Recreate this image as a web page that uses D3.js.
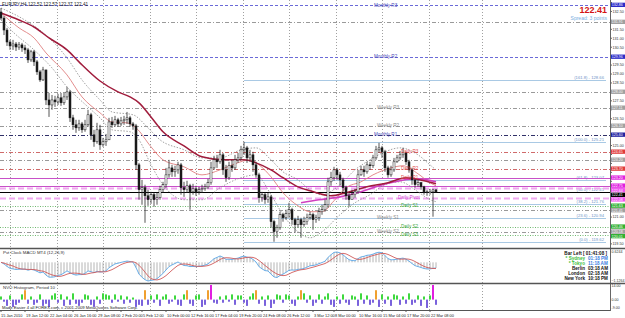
<!DOCTYPE html>
<html><head><meta charset="utf-8">
<script src="https://cdn.jsdelivr.net/npm/d3@7"></script>
<style>body{margin:0;background:#fff}svg{display:block;font-family:"Liberation Sans",Arial,sans-serif}</style>
</head><body><svg id="c" width="625" height="318"></svg>
<script>
// ---------- DATA ----------
const symbolTitle = "EURJPY,H4  122.52 122.57 122.37 122.41";
const firstOpen = 132.47;
const closes = [132.13,131.46,130.79,130.57,130.68,130.51,130.63,130.46,130.35,129.79,
130.24,129.68,129.12,128.67,129.23,127.55,127.27,127.55,127.44,127.67,
127.39,127.72,128.00,126.55,126.16,125.99,126.21,125.88,126.16,126.72,
125.60,125.21,125.88,125.04,125.21,125.32,126.32,126.16,126.44,126.21,
126.38,126.44,126.55,126.21,126.10,123.92,122.53,122.64,122.19,121.97,
122.25,121.97,122.08,122.53,122.81,123.36,123.75,123.53,123.64,123.92,
122.64,122.53,122.75,122.41,122.58,122.41,122.53,122.58,122.69,122.92,
123.75,124.20,124.09,124.48,123.64,123.20,123.87,123.75,124.20,124.31,
124.76,124.87,124.31,124.48,123.92,123.36,122.08,122.25,121.97,122.13,
120.74,120.18,120.40,121.13,120.96,121.19,121.41,120.85,120.57,120.85,
120.57,120.74,120.96,121.13,120.85,120.96,121.30,121.41,121.69,122.97,
123.20,123.64,123.36,123.08,122.64,122.19,121.97,122.25,122.41,123.36,
123.64,123.53,123.92,123.87,124.31,124.76,124.87,124.65,123.75,123.36,
123.64,124.09,124.31,124.48,124.59,124.09,123.64,123.08,122.81,122.92,
122.69,122.41,122.36,122.41,122.52,122.41];
const highs = [132.69,132.25,131.58,130.91,130.91,130.79,130.79,130.74,130.63,130.46,
130.35,130.35,129.79,129.23,129.40,129.23,127.94,127.83,127.78,127.89,
127.94,127.94,128.28,128.11,126.72,126.44,126.44,126.32,126.44,127.00,
126.83,125.88,126.27,126.16,125.43,125.65,126.55,126.60,126.66,126.55,
126.60,126.66,126.88,126.66,126.32,126.21,124.03,123.08,122.81,122.53,
122.41,122.36,122.36,122.75,122.97,123.75,124.20,123.92,123.87,124.09,
124.03,122.97,123.03,122.86,122.86,122.75,122.69,122.81,122.86,123.14,
124.09,124.43,124.48,124.76,124.59,123.92,124.09,124.20,124.48,124.59,
124.98,125.21,124.98,124.76,124.65,124.09,123.48,122.41,122.36,122.36,
122.25,120.85,120.57,121.30,121.24,121.41,121.80,121.52,120.96,121.07,
120.96,121.02,121.19,121.30,121.24,121.13,121.52,121.69,121.97,123.20,
123.53,123.81,123.75,123.53,123.20,122.75,122.36,122.53,122.58,123.64,
123.87,123.87,124.09,124.09,124.48,124.98,125.15,124.98,124.76,123.87,
123.87,124.31,124.48,124.70,124.87,124.65,124.20,123.75,123.08,123.08,
122.97,122.75,122.53,122.58,122.58,122.57];
const lows = [132.02,131.18,130.57,130.35,130.35,130.29,130.35,130.24,130.12,129.62,
129.68,129.45,128.95,128.56,128.61,127.27,126.60,127.00,127.16,127.27,
127.22,127.27,127.55,126.32,125.88,125.71,125.82,125.71,125.77,126.05,
125.32,124.93,125.10,124.76,124.93,124.98,125.32,125.99,126.05,126.05,
126.10,126.16,126.21,126.05,125.88,123.64,121.97,121.69,120.68,121.63,
121.74,121.58,121.69,121.97,122.36,122.64,123.20,123.25,123.25,123.42,
122.25,122.13,122.36,121.41,122.25,122.19,122.25,122.36,122.47,122.58,
122.81,123.64,123.75,123.98,123.36,122.97,123.08,123.53,123.64,124.03,
124.20,124.48,124.03,124.09,123.53,123.20,121.80,121.86,121.74,121.80,
120.40,119.62,119.84,120.29,120.74,120.85,120.96,120.57,120.12,120.40,
119.84,120.46,120.57,120.85,120.29,120.68,120.79,121.13,121.30,121.52,
122.75,123.03,123.08,122.75,122.41,121.97,121.58,121.97,122.08,122.30,
123.31,123.25,123.42,123.64,123.75,124.20,124.59,124.31,123.53,123.20,
123.25,123.53,124.03,124.20,124.31,123.92,123.48,122.81,122.64,122.69,
122.53,122.25,122.19,122.25,121.02,122.37];

// moving averages: [bar index list], [price list]
const maLongIdx = [0,6,11,16,22,26,33,39,43,46,50,54,61,67,74,81,85,90,94,99,103,110,115,122,129,135,141,145];
const maLongVal = [132.41,132.02,131.63,131.02,130.35,129.68,128.61,128.00,127.72,127.39,126.60,125.77,124.98,124.37,124.20,124.20,124.03,123.64,123.20,122.69,122.47,122.19,122.36,122.69,122.92,123.20,123.03,122.86];
const maMidIdx = [0,6,11,15,22,27,33,37,42,45,50,54,61,67,73,78,83,86,90,94,99,103,107,111,115,120,124,130,134,139,143,145];
const maMidVal = [132.41,131.58,131.02,130.18,128.95,127.72,126.83,126.32,126.27,125.99,124.93,124.20,123.81,123.36,123.64,123.98,124.20,123.92,123.25,122.36,121.63,121.30,121.30,121.91,122.64,122.97,123.36,123.75,123.87,123.42,122.92,122.75];
const bandUpIdx = [0,9,16,22,27,33,37,44,49,53,61,67,73,80,85,90,94,99,103,107,113,118,123,128,133,139,143,145];
const bandUpVal = [132.69,131.91,131.02,129.90,128.67,127.55,126.88,126.72,125.99,125.32,124.76,124.31,124.31,124.76,124.87,124.20,123.53,123.08,122.53,122.25,122.81,123.64,124.20,124.65,124.87,124.48,123.92,123.64];
const bandLoIdx = [0,4,11,17,22,29,33,37,43,46,50,54,61,67,73,80,85,90,94,99,103,107,113,118,123,128,133,139,143,145];
const bandLoVal = [132.02,131.35,130.35,129.34,128.28,127.16,126.55,125.88,125.77,125.32,123.92,122.81,121.97,121.97,122.64,123.20,123.36,122.25,121.13,120.18,119.84,120.18,121.13,121.80,122.25,122.81,122.97,122.41,121.97,121.86];
const maPinkIdx = [100,106,113,120,126,133,138,142,145];
const maPinkVal = [121.80,121.97,122.13,122.41,122.75,123.03,123.14,123.08,122.97];

// horizontal levels
const levelPrices = [132.86,131.91,129.96,128.00,127.11,126.10,125.60,124.65,124.20,123.70,123.20,122.75,122.64,122.41,122.08,121.63,121.41,120.46,120.18,120.01];
const levelKinds  = ["mon","gray","mon","gray","gray","gray","monD","dR","gray","dR","piv","piv","pivD","cur","pivD","dS","gray","dS","gray","dS"];
const pivotNames  = ["Monthly R3","Monthly R2","Weekly R3","Weekly R2","Monthly R1","Daily R3","Daily R2","Daily R1","Daily Pivot","Daily S1","Weekly S1","Daily S2","Weekly S2","Daily S3"];
const pivotPrices = [132.86,129.96,127.11,126.10,125.60,124.65,123.70,123.20,122.08,121.63,120.96,120.46,120.18,120.01];

// fibonacci from swing high bar to swing low bar
const fibRatios = [0,23.6,38.2,50,61.8,100,161.8];
const fibHighBar = 81, fibLowBar = 91;

// NVO histogram values
const nvo = [3,-2,-6,4,-7,-5,-3,5,9,-4,3,-5,-3,5,-6,-4,-7,4,6,-3,
5,-6,3,-5,6,-4,-6,-3,5,4,-5,-7,3,-4,6,5,4,-3,5,-2,
4,-4,3,-3,2,-7,-5,-6,9,-5,4,-3,5,-6,3,5,-4,-2,4,-5,
-6,5,9,-4,-6,4,5,-7,-5,9,14,-3,-4,3,-3,4,-2,5,-5,4,
4,-3,-6,3,6,9,-4,3,-6,4,-8,-4,5,4,-3,5,4,-4,-6,3,
9,6,-3,4,-6,-3,5,-4,3,6,-5,-7,3,-4,5,-3,-5,4,3,-6,
6,-4,4,-5,-3,9,-7,5,-4,3,-6,5,4,-5,3,-4,6,-5,-3,4,
-6,3,-8,4,14,-5];

// time axis
const timeLabels = ["15 Jan 2010","19 Jan 12:00","22 Jan 04:00","26 Jan 16:00","29 Jan 08:00","2 Feb 20:00","5 Feb 12:00","10 Feb 00:00","12 Feb 16:00","17 Feb 04:00","19 Feb 20:00","24 Feb 08:00","26 Feb 12:00","3 Mar 12:00","8 Mar 00:00","10 Mar 16:00","15 Mar 04:00","17 Mar 20:00","22 Mar 08:00"];
const timeLabelBars = [0,8,16,24,32,40,47,55,63,71,79,87,95,104,111,119,127,135,143];
const gridBars = [3,18.5,34,49.5,65,80.5,96,111.5,127,142.5,160.3];

// clock
const clockNames = ["* Sydney","* Tokyo","Berlin","London","New York"];
const clockTimes = ["01:18 PM","11:18 AM","03:18 AM","02:18 AM","10:18 PM"];
const barLeft = "Bar Left [ 01:41:08 ]";
const bidText = "122.41", spreadText = "Spread: 3 points";

// MACD periods (bars here are compressed 2:1 vs H4, so halved periods)
const macdFast = 6, macdSlow = 13, macdSig = 5;

// ---------- DRAW ----------
const svg = d3.select("#c");
const plotR = 610;
const x = d3.scaleLinear().domain([0, closes.length - 1]).range([1, 436]);
const yP = d3.scaleLinear().domain([119.27, 133.14]).range([248, 0]);
const opens = closes.map((c, i) => i === 0 ? firstOpen : closes[i - 1]);

svg.append("rect").attr("width", 625).attr("height", 318).attr("fill", "#fff");

// vertical grid
svg.append("g").selectAll("line").data(gridBars).join("line")
  .attr("x1", d => Math.round(x(d)) + 0.5).attr("x2", d => Math.round(x(d)) + 0.5)
  .attr("y1", 0).attr("y2", 310).attr("stroke", "#a0a0a0").attr("stroke-dasharray", "1,2");

const lvStyle = {
  mon: {c: "#6a6ad8", d: "3,2", w: 1},
  monD: {c: "#303068", d: "4,2,1,2", w: 1},
  gray: {c: "#9a9a9a", d: "4,2,1,2", w: 1},
  dR: {c: "#d06a6a", d: "4,2,1,2", w: 1},
  piv: {c: "#c850c8", d: null, w: 1},
  pivD: {c: "#f0a8f0", d: "6,3", w: 2},
  cur: {c: "#000", d: null, w: 1},
  dS: {c: "#70b870", d: "1,1.5", w: 1}
};
const boxCol = {mon: "#2c2cc8", monD: "#2020a0", gray: "#a0a0a0", dR: "#e03a3a", piv: "#e020e0", pivD: "#f050f0", cur: "#000", dS: "#30b030"};

// fib lines
const fibHigh = highs[fibHighBar], fibLow = lows[fibLowBar];
const fibPrices = fibRatios.map(r => fibLow + r / 100 * (fibHigh - fibLow));
const gF = svg.append("g");
fibPrices.forEach((p, i) => {
  const yy = Math.round(yP(p)) + 0.5;
  gF.append("line").attr("x1", x(fibHighBar)).attr("x2", 606).attr("y1", yy).attr("y2", yy)
    .attr("stroke", "#a9c9e4").attr("stroke-width", 1.2);
  gF.append("text").attr("x", 604).attr("y", yy - 1.5).attr("text-anchor", "end")
    .attr("font-size", 4.2).attr("fill", "#6f95c8")
    .text(`(${fibRatios[i].toFixed(1)}) - ${p.toFixed(2)}`);
});

const gL = svg.append("g");
levelPrices.forEach((p, i) => {
  const s = lvStyle[levelKinds[i]];
  const yy = Math.round(yP(p)) + 0.5;
  const ln = gL.append("line").attr("x1", 0).attr("x2", plotR).attr("y1", yy).attr("y2", yy)
    .attr("stroke", s.c).attr("stroke-width", s.w);
  if (s.d) ln.attr("stroke-dasharray", s.d);
});

// indicator lines
function pts(idx, val) { return idx.map((b, i) => [x(b), yP(val[i])]); }
const line = d3.line().curve(d3.curveMonotoneX);
svg.append("path").attr("d", line(pts(bandUpIdx, bandUpVal))).attr("fill", "none").attr("stroke", "#8a8a8a").attr("stroke-dasharray", "1.5,1.5").attr("stroke-width", 0.8);
svg.append("path").attr("d", line(pts(bandLoIdx, bandLoVal))).attr("fill", "none").attr("stroke", "#8a8a8a").attr("stroke-dasharray", "1.5,1.5").attr("stroke-width", 0.8);
svg.append("path").attr("d", line(pts(maMidIdx, maMidVal))).attr("fill", "none").attr("stroke", "#e08080").attr("stroke-width", 0.9);
svg.append("path").attr("d", line(pts(maPinkIdx, maPinkVal))).attr("fill", "none").attr("stroke", "#d040c0").attr("stroke-width", 1.6);
svg.append("path").attr("d", line(pts(maLongIdx, maLongVal))).attr("fill", "none").attr("stroke", "#a01c3c").attr("stroke-width", 1.5);

// candles
const gC = svg.append("g");
closes.forEach((c, i) => {
  const xx = x(i);
  gC.append("line").attr("x1", xx).attr("x2", xx).attr("y1", yP(highs[i])).attr("y2", yP(lows[i]))
    .attr("stroke", "#2a2a2a").attr("stroke-width", 0.8);
  const o = opens[i], t = Math.min(yP(o), yP(c)), h = Math.max(0.8, Math.abs(yP(o) - yP(c)));
  gC.append("rect").attr("x", xx - 1).attr("y", t).attr("width", 2).attr("height", h)
    .attr("fill", c >= o ? "#fff" : "#1a1a1a").attr("stroke", "#1a1a1a").attr("stroke-width", 0.5);
});

// pivot text labels
const gT = svg.append("g").attr("font-size", 4.6);
pivotNames.forEach((n, i) => {
  let col = "#8a8a8a", xx = 377;
  if (n.startsWith("Monthly")) { col = "#4a4ab8"; xx = 374; }
  else if (n === "Daily Pivot") { col = "#d040d0"; xx = 398; }
  else if (n.startsWith("Daily R")) { col = "#e05050"; xx = 401; }
  else if (n.startsWith("Daily S")) { col = "#40a840"; xx = 401; }
  gT.append("text").attr("x", xx).attr("y", yP(pivotPrices[i]) + 1.6).attr("fill", col).text(n);
});

// right axis
svg.append("rect").attr("x", plotR).attr("y", 0).attr("width", 15).attr("height", 318).attr("fill", "#fff");
svg.append("line").attr("x1", plotR + 0.5).attr("x2", plotR + 0.5).attr("y1", 0).attr("y2", 311).attr("stroke", "#666");
const boxH = 4.6;
const order = d3.range(levelPrices.length).sort((a, b) => yP(levelPrices[a]) - yP(levelPrices[b]));
const boxY = {};
let last = -99;
order.forEach(i => { let yy = yP(levelPrices[i]); if (yy - last < boxH) yy = last + boxH; boxY[i] = yy; last = yy; });
const boxYs = Object.values(boxY);
const gA = svg.append("g").attr("font-size", 3.7).attr("fill", "#333");
yP.ticks(28).forEach(t => {
  const yy = yP(t);
  if (yy < 2 || yy > 246) return;
  gA.append("line").attr("x1", plotR).attr("x2", plotR + 2).attr("y1", yy).attr("y2", yy).attr("stroke", "#666");
  if (boxYs.some(b => Math.abs(b - yy) < 4.8)) return;
  gA.append("text").attr("x", plotR + 2.5).attr("y", yy + 1.3).text(t.toFixed(2));
});
order.forEach(i => {
  const yy = boxY[i];
  svg.append("rect").attr("x", plotR + 1).attr("y", yy - boxH / 2).attr("width", 14).attr("height", boxH - 0.3).attr("fill", boxCol[levelKinds[i]]);
  svg.append("text").attr("x", plotR + 1.8).attr("y", yy + 1.3).attr("font-size", 3.6).attr("fill", "#fff").text(levelPrices[i].toFixed(2));
});

// title and bid
svg.append("text").attr("x", 2).attr("y", 6).attr("font-size", 4.6).attr("fill", "#222").text(symbolTitle);
svg.append("text").attr("x", 607).attr("y", 13).attr("text-anchor", "end").attr("font-size", 9).attr("font-weight", "bold").attr("fill", "#d41414").text(bidText);
svg.append("text").attr("x", 607).attr("y", 19.5).attr("text-anchor", "end").attr("font-size", 5).attr("fill", "#78aee0").text(spreadText);

// panel separators
[248.5, 283.5].forEach(yy => svg.append("line").attr("x1", 0).attr("x2", 625).attr("y1", yy).attr("y2", yy).attr("stroke", "#555").attr("stroke-width", 1.4));
svg.append("line").attr("x1", 0).attr("x2", plotR).attr("y1", 310.5).attr("y2", 310.5).attr("stroke", "#555");

// MACD
function ema(a, n) { const k = 2 / (n + 1); const o = []; a.forEach((v, i) => o.push(i === 0 ? v : v * k + o[i - 1] * (1 - k))); return o; }
const ef = ema(closes, macdFast), es = ema(closes, macdSlow);
const macd = ef.map((v, i) => v - es[i]);
const sig = macd.map((v, i) => d3.mean(macd.slice(Math.max(0, i - macdSig + 1), i + 1)));
const mExt = d3.extent(macd.concat(sig));
const yM = d3.scaleLinear().domain(mExt).range([281, 252]);
const gM = svg.append("g");
macd.forEach((v, i) => gM.append("line").attr("x1", x(i)).attr("x2", x(i)).attr("y1", yM(0)).attr("y2", yM(v)).attr("stroke", "#b4b4b4").attr("stroke-width", 1));
const lm = d3.line().x((d, i) => x(i)).y(d => yM(d));
gM.append("path").attr("d", lm(macd)).attr("fill", "none").attr("stroke", "#5aa6e6").attr("stroke-width", 0.9);
gM.append("path").attr("d", lm(sig)).attr("fill", "none").attr("stroke", "#d05a5a").attr("stroke-width", 0.9);
svg.append("text").attr("x", 3).attr("y", 254).attr("font-size", 4.4).attr("fill", "#333").text("Pvt Clock    MACD MT4 (12,26,9)");
svg.append("text").attr("x", plotR + 1.5).attr("y", 253).attr("font-size", 3.6).attr("fill", "#333").text(d3.format(".4f")(mExt[1]));
svg.append("text").attr("x", plotR + 1.5).attr("y", 282).attr("font-size", 3.6).attr("fill", "#333").text(d3.format(".4f")(mExt[0]));

// clock box
const gK = svg.append("g").attr("font-size", 4.6).attr("font-weight", "bold");
gK.append("text").attr("x", 607).attr("y", 255).attr("text-anchor", "end").attr("fill", "#111").text(barLeft);
clockNames.forEach((n, i) => {
  const yy = 260 + i * 5;
  const colN = i < 2 ? "#3cc03c" : "#111", colT = i < 2 ? "#3a7ee0" : "#111";
  gK.append("text").attr("x", 585).attr("y", yy).attr("text-anchor", "end").attr("fill", colN).text(n);
  gK.append("text").attr("x", 588).attr("y", yy).attr("fill", colT).text(clockTimes[i]);
});

// NVO histogram
const yN = d3.scaleLinear().domain([-9, 14]).range([309, 285]);
const gN = svg.append("g");
nvo.forEach((v, i) => {
  const col = v >= 12 ? "#e020e0" : v >= 8 ? "#f0a030" : v > 0 ? "#3ed83e" : "#7a62dc";
  gN.append("rect").attr("x", x(i) - 1).attr("width", 2)
    .attr("y", Math.min(yN(0), yN(v))).attr("height", Math.abs(yN(v) - yN(0))).attr("fill", col);
});
svg.append("text").attr("x", 3).attr("y", 289).attr("font-size", 4.4).attr("fill", "#333").text("NVO Histogram, Period 10");
[14, 0, -9].forEach(t => svg.append("text").attr("x", plotR + 1.5).attr("y", Math.min(308.5, Math.max(287, yN(t) + 1.4))).attr("font-size", 3.6).attr("fill", "#333").text(t.toFixed(2)));
svg.append("text").attr("x", 2).attr("y", 308.5).attr("font-size", 4.2).attr("fill", "#222").text("Made Easier 4 all FOREX.com, c 2001-2009 MetaQuotes Software Corp.");

// time axis
const gX = svg.append("g").attr("font-size", 3.9).attr("fill", "#222");
timeLabels.forEach((t, i) => {
  const xx = i === 0 ? 1 : x(timeLabelBars[i]);
  gX.append("line").attr("x1", xx).attr("x2", xx).attr("y1", 310).attr("y2", 312).attr("stroke", "#555");
  gX.append("text").attr("x", xx + (i === 0 ? 0 : 1)).attr("y", 316.5).text(t);
});
</script></body></html>
